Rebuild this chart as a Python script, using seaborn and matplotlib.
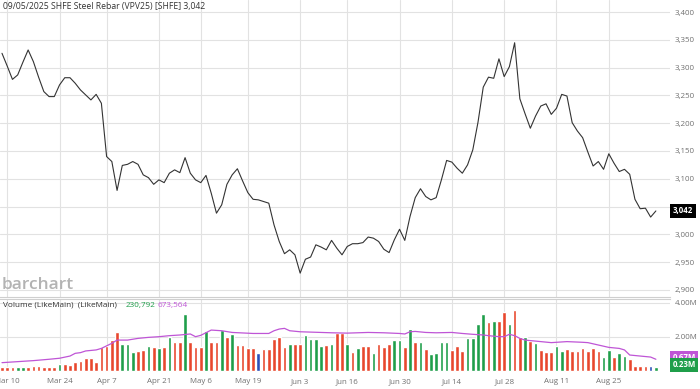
import numpy as np
import pandas as pd
import matplotlib
matplotlib.use("Agg")
import matplotlib.pyplot as plt
import matplotlib.transforms as mtransforms
import seaborn as sns

# trading calendar (SHFE holidays removed)
holidays = ["2025-04-04", "2025-05-01", "2025-05-02", "2025-05-05", "2025-06-02"]
days = pd.bdate_range("2025-03-07", "2025-09-05")
days = days[~days.isin(pd.to_datetime(holidays))]

tick_dates = ["2025-03-10", "2025-03-24", "2025-04-07", "2025-04-21", "2025-05-06",
              "2025-05-19", "2025-06-03", "2025-06-16", "2025-06-30", "2025-07-14",
              "2025-07-28", "2025-08-11", "2025-08-25"]
tick_labels = ["Mar 10", "Mar 24", "Apr 7", "Apr 21", "May 6", "May 19", "Jun 3",
               "Jun 16", "Jun 30", "Jul 14", "Jul 28", "Aug 11", "Aug 25"]

close = [3326, 3303, 3279, 3287, 3310, 3332, 3311, 3283, 3257, 3248, 3248,
         3269, 3282, 3282, 3272, 3260, 3251, 3242, 3252, 3236, 3140, 3131, 3079,
         3124, 3126, 3131, 3126, 3107, 3102, 3090, 3098, 3093, 3110, 3116, 3111,
         3138, 3110, 3098, 3093, 3106, 3074, 3038, 3053, 3090, 3107, 3118, 3096,
         3075, 3063, 3062, 3059, 3056, 3017, 2987, 2965, 2972, 2963, 2930, 2955,
         2959, 2981, 2977, 2972, 2989, 2975, 2963, 2978,
         2983, 2983, 2985, 2995, 2993, 2987, 2973, 2967, 2990, 3009, 2989, 3032,
         3066, 3082, 3068, 3062, 3066, 3098, 3133, 3130, 3119, 3110, 3125, 3152,
         3202, 3265, 3283, 3281, 3316, 3284, 3302, 3345, 3244, 3217, 3191, 3213,
         3231, 3235, 3216, 3227, 3252, 3249, 3201, 3186, 3174, 3148, 3123, 3131,
         3117, 3145, 3128, 3113, 3117, 3108, 3063, 3046, 3047, 3031, 3042]

# volume in millions
volume = [0.235, 0.22, 0.22, 0.20, 0.20, 0.22, 0.25, 0.25, 0.235, 0.22, 0.22,
          0.39, 0.39, 0.33, 0.49, 0.55, 0.73, 0.73, 0.51, 1.41, 1.45, 1.80, 2.25,
          1.55, 1.55, 1.10, 1.18, 1.22, 1.47, 1.37, 1.33, 1.37, 2.00, 1.71, 1.71,
          3.33, 1.67, 1.37, 1.37, 2.31, 1.67, 1.67, 2.39, 1.98, 2.14, 1.51, 1.51,
          1.31, 1.31, 1.06, 1.25, 1.25, 1.84, 1.96, 1.37, 1.57, 1.57, 1.57, 2.10,
          1.86, 1.86, 1.45, 1.51, 1.55, 2.20, 2.20, 1.57,
          1.08, 1.35, 1.45, 1.45, 1.02, 1.57, 1.37, 1.55, 1.80, 1.80, 1.41, 2.43,
          1.69, 1.69, 1.25, 0.98, 1.06, 1.69, 1.69, 1.22, 1.47, 1.18, 1.90, 1.90,
          2.74, 3.31, 2.88, 2.92, 2.92, 3.45, 2.74, 3.55, 1.96, 1.96, 1.74, 1.65,
          1.22, 1.08, 1.08, 1.45, 1.18, 1.25, 1.18, 1.18, 1.31, 1.16, 1.35, 1.16,
          0.82, 1.22, 0.78, 1.06, 0.86, 0.69, 0.27, 0.27, 0.27, 0.27, 0.23]

# u = up (green), d = down (red), n = unchanged (blue)
bar_dir = ("d d d u u d d d d d d "
           "u d d d d d d d d d d d "
           "u u u d d u d u d u d d "
           "u d d d u d d u d u d d "
           "d d n d d d d d u d d u "
           "u u u d u d d u "
           "d u d d u d d d u u d u "
           "d u d u u u u d d d u u "
           "u u d u d d u d d u d u "
           "d d d u u d d d d d d d "
           "u u d u u d d d d n u").split()

ma_day = [0, 3, 6, 9, 11, 13, 14, 15, 16, 18, 19, 21, 22, 24, 26, 28, 30, 32, 34,
          36, 37, 38, 40, 42, 44, 48, 51, 52, 53, 54, 55, 57, 61, 63, 66, 70, 73,
          76, 77, 78, 79, 81, 83, 86, 88, 90, 92, 93, 95, 96, 97, 98, 99, 100, 102,
          105, 108, 111, 112, 114, 116, 118, 119, 120, 122, 124, 125]
ma_val = [0.47, 0.53, 0.59, 0.67, 0.73, 0.86, 1.02, 1.06, 1.16, 1.22, 1.31, 1.61,
          1.80, 1.80, 1.90, 1.96, 2.00, 2.06, 2.10, 2.16, 2.00, 2.08, 2.39, 2.35,
          2.25, 2.19, 2.19, 2.35, 2.45, 2.49, 2.35, 2.29, 2.25, 2.23, 2.21, 2.25,
          2.23, 2.19, 2.16, 2.29, 2.31, 2.25, 2.23, 2.25, 2.19, 2.14, 2.10, 2.06,
          2.00, 2.00, 2.14, 2.06, 1.90, 1.80, 1.74, 1.65, 1.71, 1.67, 1.65, 1.51,
          1.37, 1.31, 1.22, 0.92, 0.86, 0.80, 0.67]

price_ticks = [2900, 2950, 3000, 3050, 3100, 3150, 3200, 3250, 3300, 3350, 3400]
vol_ticks = [2.0, 4.0]

sns.set_style("white")
plt.rcParams['font.family'] = ['Open Sans', 'DejaVu Sans']

GRID = "#e2e2e2"
TXT = "#707070"
RED = "#e8472d"
GREEN = "#1f9e4a"
BLUE = "#2b4fb8"
PURPLE = "#bf55d6"

W, H = 700, 389
def box(l, t, r, b):
    return [l / W, 1 - b / H, (r - l) / W, (b - t) / H]

fig = plt.figure(figsize=(7, 3.89), dpi=100)
ax1 = fig.add_axes(box(0, 0, 670, 297))
ax2 = fig.add_axes(box(0, 299, 670, 372))

df = pd.DataFrame({"day": np.arange(len(days)), "close": close,
                   "volume": volume, "dir": bar_dir})
tick_pos = [days.get_loc(pd.Timestamp(d)) for d in tick_dates]

sns.lineplot(data=df, x="day", y="close", color="#333333", lw=0.8, ax=ax1)
sns.barplot(data=df, x="day", y="volume", hue="dir",
            palette={"u": GREEN, "d": RED, "n": BLUE}, dodge=False, width=0.7,
            saturation=1, errorbar=None, legend=False, ax=ax2)
sns.lineplot(x=ma_day, y=ma_val, color=PURPLE, lw=0.9, ax=ax2)

for ax in (ax1, ax2):
    ax.set_xlim(-0.38, 127.7)
    ax.set_xlabel("")
    ax.set_ylabel("")
    ax.set_xticks(tick_pos)
    ax.grid(True, color=GRID, lw=0.8)
    ax.set_axisbelow(True)
    ax.yaxis.tick_right()
    ax.tick_params(length=0, labelsize=5.7, labelcolor=TXT, pad=3.5)
    for s in ax.spines.values():
        s.set_visible(False)

ax1.set_ylim(2887, 3422)
ax1.set_yticks(price_ticks, [f"{v:,}" for v in price_ticks])
ax1.set_xticklabels([])
ax1.spines["bottom"].set_visible(True)
ax1.spines["bottom"].set_color("#cfcfcf")

ax2.set_ylim(-0.08, 4.22)
ax2.set_yticks(vol_ticks, [f"{v:.2f}M" for v in vol_ticks])
ax2.set_xticks(tick_pos, tick_labels)
ax2.tick_params(axis="x", pad=4.5)
ax2.spines["top"].set_visible(True)
ax2.spines["top"].set_color("#cfcfcf")

# last value boxes on the right (they sit over the axis labels, as in the source)
tr1 = mtransforms.blended_transform_factory(ax1.transAxes, ax1.transData)
ax1.text(1.004, close[-1], f"{close[-1]:,}", transform=tr1, ha="left", va="center",
         color="white", fontsize=5.7, fontweight="bold", zorder=10,
         bbox=dict(boxstyle="square,pad=0.35", fc="black", ec="none"))
tr2 = mtransforms.blended_transform_factory(ax2.transAxes, ax2.transData)
ax2.text(1.004, 0.78, f"{ma_val[-1]:.2f}M", transform=tr2, ha="left", va="center",
         color="white", fontsize=5.7, fontweight="bold", zorder=10,
         bbox=dict(boxstyle="square,pad=0.3", fc=PURPLE, ec="none"))
ax2.text(1.004, 0.34, f"{volume[-1]:.2f}M", transform=tr2, ha="left", va="center",
         color="white", fontsize=5.7, fontweight="bold", zorder=11,
         bbox=dict(boxstyle="square,pad=0.3", fc=GREEN, ec="none"))

# header texts
fig.text(3 / W, 1 - 6 / H, "09/05/2025 SHFE Steel Rebar (VPV25) [SHFE] 3,042",
         ha="left", va="center", fontsize=6.2, color="#333333")
fig.text(2 / W, 1 - 285 / H, "barchart", ha="left", va="center", fontsize=12.5,
         fontweight="semibold", color="#b3b3b3")
fig.text(3 / W, 1 - 305 / H, "Volume (LikeMain)  (LikeMain)", ha="left",
         va="center", fontsize=5.9, color="#333333")
fig.text(126 / W, 1 - 305 / H, "230,792", ha="left", va="center", fontsize=5.9,
         color=GREEN)
fig.text(158 / W, 1 - 305 / H, "673,564", ha="left", va="center", fontsize=5.9,
         color=PURPLE)

fig.savefig("out.png", dpi=100)
